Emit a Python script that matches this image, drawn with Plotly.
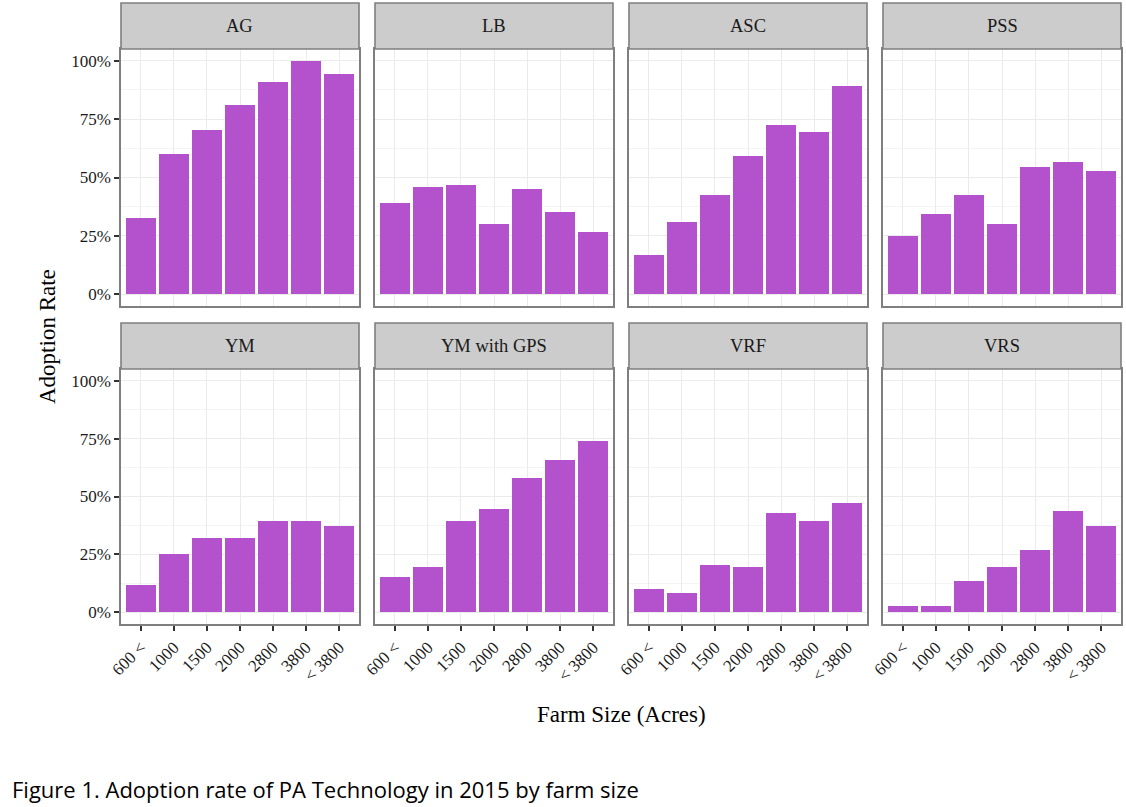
import plotly.graph_objects as go

# adoption rate (%) by farm size
farm_sizes = ["600 <", "1000", "1500", "2000", "2800", "3800", "< 3800"]
technologies = ["AG", "LB", "ASC", "PSS", "YM", "YM with GPS", "VRF", "VRS"]

ag = [32.6, 60.0, 70.3, 81.0, 90.9, 100.0, 94.1]
lb = [39.0, 45.9, 46.7, 30.0, 45.0, 35.1, 26.6]
asc = [16.7, 30.9, 42.4, 59.1, 72.4, 69.4, 89.1]
pss = [24.9, 34.3, 42.4, 30.0, 54.4, 56.6, 52.7]
ym = [11.8, 25.2, 32.1, 32.1, 39.4, 39.4, 37.3]
ym_gps = [15.3, 19.6, 39.4, 44.6, 58.0, 65.8, 74.0]
vrf = [10.1, 8.3, 20.4, 19.6, 42.9, 39.4, 47.2]
vrs = [2.7, 2.7, 13.5, 19.6, 26.9, 43.7, 37.3]
series = [ag, lb, asc, pss, ym, ym_gps, vrf, vrs]

y_ticks = [0, 25, 50, 75, 100]
y_ticktext = ["0%", "25%", "50%", "75%", "100%"]
y_minor = [12.5, 37.5, 62.5, 87.5]

W, H = 1126, 807
BAR = "#B452CD"
BORDER = "#7F7F7F"
GRID = "#EBEBEB"
SERIF = "Liberation Serif"

# panel geometry in pixels
cols_px = [(121, 359), (375, 613), (629, 867), (883, 1121)]
rows_px = [(49, 306), (369, 624)]
strip_h = 46


def px_x(px):
    return px / W


def px_y(py):
    return 1 - py / H


fig = go.Figure()
shapes = []
annotations = []

for i, (name, vals) in enumerate(zip(technologies, series)):
    r, c = divmod(i, 4)
    n = i + 1
    xa = "x" if n == 1 else f"x{n}"
    ya = "y" if n == 1 else f"y{n}"
    fig.add_trace(go.Bar(x=farm_sizes, y=vals, marker_color=BAR,
                         marker_line_width=0, width=0.9, showlegend=False,
                         xaxis=xa, yaxis=ya))

    x0, x1 = cols_px[c]
    y0, y1 = rows_px[r]
    xkey = "xaxis" if n == 1 else f"xaxis{n}"
    ykey = "yaxis" if n == 1 else f"yaxis{n}"
    fig.layout[xkey] = dict(
        domain=[px_x(x0), px_x(x1)], anchor=ya, range=[-0.6, 6.6],
        type="category", categoryorder="array", categoryarray=farm_sizes,
        showgrid=True, gridcolor=GRID, gridwidth=1.4,
        showline=True, mirror=True, linecolor=BORDER, linewidth=1.6,
        ticks="outside" if r == 1 else "", ticklen=5, tickwidth=1.5,
        tickcolor="#333333", showticklabels=(r == 1), tickangle=-45,
        tickfont=dict(family=SERIF, size=17, color="#1A1A1A"),
        zeroline=False, fixedrange=True, automargin=False,
    )
    fig.layout[ykey] = dict(
        domain=[px_y(y1), px_y(y0)], anchor=xa, range=[-5, 105],
        tickvals=y_ticks, ticktext=y_ticktext,
        showgrid=True, gridcolor=GRID, gridwidth=1.4,
        minor=dict(tickvals=y_minor, showgrid=True, gridcolor="#F4F4F4",
                   gridwidth=1, ticks=""),
        showline=True, mirror=True, linecolor=BORDER, linewidth=1.6,
        ticks="outside" if c == 0 else "", ticklen=5, tickwidth=1.5,
        tickcolor="#333333", showticklabels=(c == 0),
        tickfont=dict(family=SERIF, size=17, color="#1A1A1A"),
        zeroline=False, fixedrange=True, automargin=False,
    )

    # facet strip
    shapes.append(dict(type="rect", xref="paper", yref="paper",
                       x0=px_x(x0), x1=px_x(x1),
                       y0=px_y(y0), y1=px_y(y0 - strip_h),
                       fillcolor="#CCCCCC", line=dict(color=BORDER, width=1.6)))
    annotations.append(dict(text=name, xref="paper", yref="paper",
                            x=px_x((x0 + x1) / 2), y=px_y(y0 - strip_h / 2),
                            showarrow=False, xanchor="center", yanchor="middle",
                            font=dict(family=SERIF, size=18.5, color="#1A1A1A")))

annotations.append(dict(text="Adoption Rate", xref="paper", yref="paper",
                        x=px_x(47), y=px_y(337), textangle=-90, showarrow=False,
                        xanchor="center", yanchor="middle",
                        font=dict(family=SERIF, size=23, color="black")))
annotations.append(dict(text="Farm Size (Acres)", xref="paper", yref="paper",
                        x=px_x(621), y=px_y(714), showarrow=False,
                        xanchor="center", yanchor="middle",
                        font=dict(family=SERIF, size=23, color="black")))
annotations.append(dict(text="Figure 1. Adoption rate of PA Technology in 2015 by farm size",
                        xref="paper", yref="paper", x=px_x(10), y=px_y(789),
                        showarrow=False, xanchor="left", yanchor="middle",
                        font=dict(family="Open Sans", size=22, color="black")))

fig.update_layout(
    width=W, height=H, margin=dict(l=0, r=0, t=0, b=0),
    paper_bgcolor="white", plot_bgcolor="white",
    bargap=0, shapes=shapes, annotations=annotations,
)

# drop the browser's default page margin so the figure sits at the corner
fig.write_html("out.html", config={"displayModeBar": False},
               post_script="document.body.style.margin = '0px';")
